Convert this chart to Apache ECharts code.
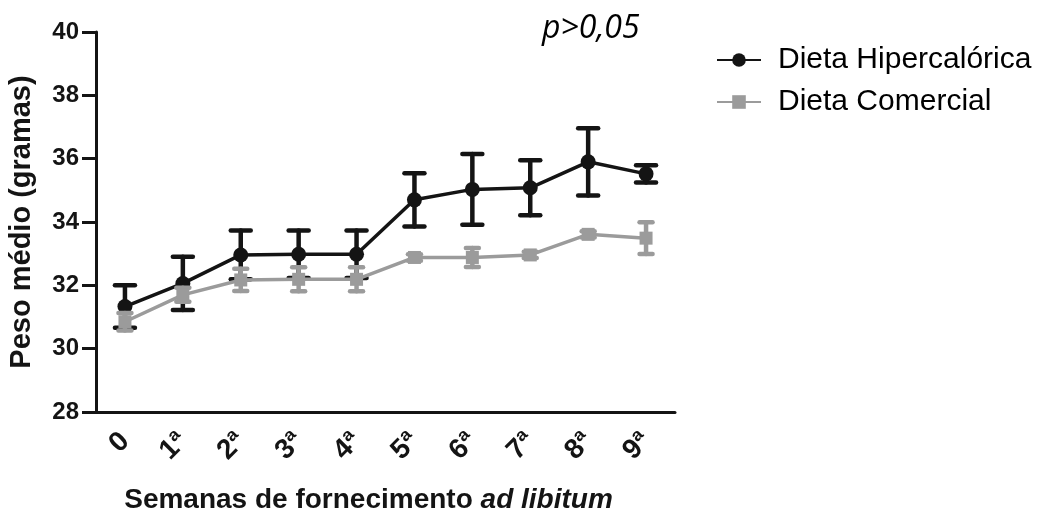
<!DOCTYPE html>
<html>
<head>
<meta charset="utf-8">
<script src="https://cdn.jsdelivr.net/npm/echarts@6/dist/echarts.min.js"></script>
<style>
html,body{margin:0;padding:0;background:#fff;}
#c{width:1051px;height:516px;}
</style>
</head>
<body>
<div id="c"></div>
<script>
const categories = ['0', '1ª', '2ª', '3ª', '4ª', '5ª', '6ª', '7ª', '8ª', '9ª'];
const hiperMean = [31.33, 32.06, 32.96, 32.98, 32.98, 34.70, 35.03, 35.08, 35.90, 35.52];
const hiperErr  = [0.67, 0.84, 0.77, 0.75, 0.75, 0.84, 1.12, 0.87, 1.06, 0.27];
const comMean   = [30.85, 31.70, 32.17, 32.19, 32.19, 32.88, 32.88, 32.96, 33.61, 33.49];
const comErr    = [0.28, 0.22, 0.35, 0.38, 0.38, 0.10, 0.30, 0.10, 0.10, 0.50];
const yTicks = [28, 30, 32, 34, 36, 38, 40];
const seriesNames = ['Dieta Hipercalórica', 'Dieta Comercial'];

const BLACK = '#141414';
const GRAY = '#9b9b9b';
const FONT = 'Liberation Sans, Arial, sans-serif';

function errData(mean, err) {
  return mean.map((m, i) => [i, m - err[i], m + err[i]]);
}
function errRender(color, capW, lw) {
  return function (params, api) {
    const lo = api.coord([api.value(0), api.value(1)]);
    const hi = api.coord([api.value(0), api.value(2)]);
    const st = { stroke: color, lineWidth: lw, lineCap: 'round' };
    return {
      type: 'group',
      children: [
        { type: 'line', shape: { x1: lo[0], y1: lo[1], x2: hi[0], y2: hi[1] }, style: st },
        { type: 'line', shape: { x1: hi[0] - capW / 2, y1: hi[1], x2: hi[0] + capW / 2, y2: hi[1] }, style: st },
        { type: 'line', shape: { x1: lo[0] - capW / 2, y1: lo[1], x2: lo[0] + capW / 2, y2: lo[1] }, style: st }
      ]
    };
  };
}

const chart = echarts.init(document.getElementById('c'), null, { renderer: 'canvas' });
chart.setOption({
  backgroundColor: '#ffffff',
  animation: false,
  grid: { left: 96, right: 376, top: 32, bottom: 104, containLabel: false, outerBoundsMode: 'none' },
  legend: {
    left: 711, top: 40, orient: 'vertical', itemGap: 12,
    itemWidth: 44, itemHeight: 17,
    data: seriesNames,
    textStyle: { fontFamily: FONT, fontSize: 30, color: '#000', padding: [0, 0, 0, 12] }
  },
  graphic: [{
    type: 'text', left: 542, top: 13,
    style: { text: 'p>0,05', fontFamily: 'Open Sans', fontStyle: 'italic', fontSize: 32, fill: '#000' }
  }],
  xAxis: {
    type: 'category', data: categories, boundaryGap: true,
    axisLine: { lineStyle: { color: BLACK, width: 3 } },
    axisTick: { alignWithLabel: true, length: 12, lineStyle: { color: BLACK, width: 3 } },
    axisLabel: { rotate: 45, margin: 25, fontFamily: FONT, fontWeight: 'bold', fontSize: 28, color: BLACK },
    name: '{b|Semanas de fornecimento }{i|ad libitum}',
    nameLocation: 'middle', nameGap: 74,
    nameTextStyle: {
      padding: [0, 34, 0, 0],
      rich: {
        b: { fontFamily: FONT, fontWeight: 'bold', fontSize: 28, color: BLACK },
        i: { fontFamily: FONT, fontWeight: 'bold', fontStyle: 'italic', fontSize: 28, color: BLACK }
      }
    }
  },
  yAxis: {
    type: 'value', min: yTicks[0], max: yTicks[yTicks.length - 1], interval: 2,
    splitLine: { show: false },
    axisLine: { show: true, lineStyle: { color: BLACK, width: 3 } },
    axisTick: { show: true, length: 14, lineStyle: { color: BLACK, width: 3 } },
    axisLabel: { margin: 17, fontFamily: FONT, fontWeight: 'bold', fontSize: 24, color: BLACK },
    name: 'Peso médio (gramas)', nameLocation: 'middle', nameGap: 60,
    nameTextStyle: { fontFamily: FONT, fontWeight: 'bold', fontSize: 29, color: BLACK }
  },
  series: [
    {
      type: 'custom', name: 'errH', data: errData(hiperMean, hiperErr),
      renderItem: errRender(BLACK, 20, 4.5), z: 2, silent: true
    },
    {
      name: seriesNames[0], type: 'line', data: hiperMean, z: 3,
      symbol: 'circle', symbolSize: 15,
      lineStyle: { color: BLACK, width: 3.5 },
      itemStyle: { color: BLACK }
    },
    {
      type: 'custom', name: 'errC', data: errData(comMean, comErr),
      renderItem: errRender(GRAY, 13, 4.5), z: 4, silent: true
    },
    {
      name: seriesNames[1], type: 'line', data: comMean, z: 5,
      symbol: 'rect', symbolSize: 13,
      lineStyle: { color: GRAY, width: 3.5 },
      itemStyle: { color: GRAY }
    }
  ]
});
</script>
</body>
</html>
